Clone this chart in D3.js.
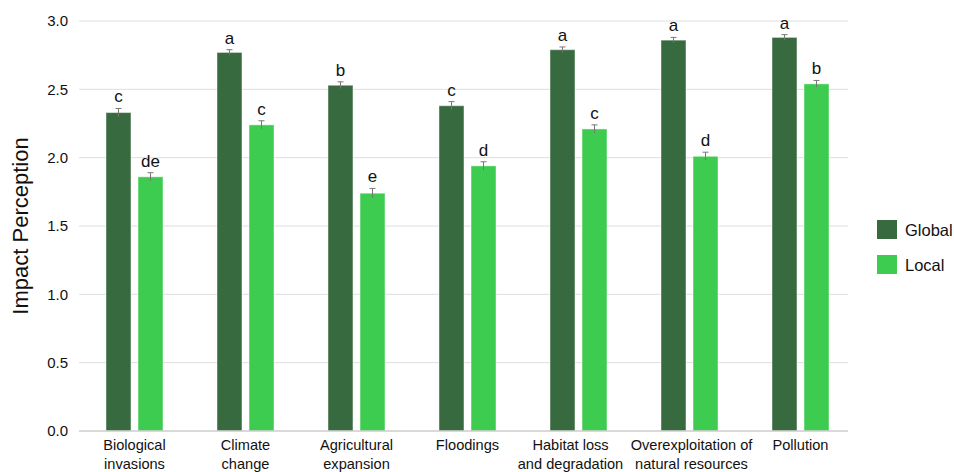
<!DOCTYPE html>
<html>
<head>
<meta charset="utf-8">
<script src="https://cdn.jsdelivr.net/npm/d3@7"></script>
<style>
  body { margin: 0; background: #fff; }
  text { font-family: "Liberation Sans", Arial, sans-serif; fill: #111; }
</style>
</head>
<body>
<svg id="chart" width="954" height="472"></svg>
<script>
// 类别与数据
const categories = ["Biological\ninvasions", "Climate\nchange", "Agricultural\nexpansion", "Floodings",
  "Habitat loss\nand degradation", "Overexploitation of\nnatural resources", "Pollution"];
const seriesNames = ["Global", "Local"];
const globalValues = [2.33, 2.77, 2.53, 2.38, 2.79, 2.86, 2.88];
const localValues = [1.86, 2.24, 1.74, 1.94, 2.21, 2.01, 2.54];
const globalErr = [0.03, 0.02, 0.025, 0.03, 0.02, 0.02, 0.02];
const localErr = [0.03, 0.03, 0.035, 0.03, 0.03, 0.03, 0.025];
const globalLetters = ["c", "a", "b", "c", "a", "a", "a"];
const localLetters = ["de", "c", "e", "d", "c", "d", "b"];
const yTicks = [0, 0.5, 1.0, 1.5, 2.0, 2.5, 3.0];

const colors = {Global: "#386a3f", Local: "#3ecc50"};

const width = 954, height = 472;
const plotLeft = 79, plotRight = 848, plotTop = 21, plotBottom = 431;
const svg = d3.select("#chart");

// 比例尺
const x0 = d3.scaleBand().domain(categories).range([plotLeft, plotLeft + 777]);
const x1 = d3.scaleBand().domain(seriesNames)
  .range([x0.bandwidth()/2 - 28.5, x0.bandwidth()/2 + 28.5]).paddingInner(0.22);
const y = d3.scaleLinear().domain([0, 3]).range([plotBottom, plotTop]);

// 网格线
svg.append("g").selectAll("line")
  .data(yTicks.slice(1))
  .enter().append("line")
  .attr("x1", plotLeft).attr("x2", plotRight)
  .attr("y1", d => y(d)).attr("y2", d => y(d))
  .attr("stroke", "#dedede").attr("stroke-width", 1);

// y轴
const yAxis = svg.append("g")
  .attr("transform", `translate(${plotLeft},0)`)
  .call(d3.axisLeft(y).tickValues(yTicks).tickFormat(d3.format(".1f")).tickSize(0).tickPadding(11));
yAxis.select(".domain").remove();
yAxis.selectAll("text").style("font-size", "15px").attr("fill", "#111");

// 数据整理
const rows = categories.map((c, i) => ({
  cat: c,
  items: [
    {key: "Global", value: globalValues[i], err: globalErr[i], letter: globalLetters[i]},
    {key: "Local", value: localValues[i], err: localErr[i], letter: localLetters[i]}
  ]
}));

const groups = svg.append("g").selectAll("g")
  .data(rows).enter().append("g")
  .attr("transform", d => `translate(${x0(d.cat)},0)`);

const bars = groups.selectAll("g").data(d => d.items).enter().append("g");

bars.append("rect")
  .attr("x", d => x1(d.key))
  .attr("y", d => y(d.value))
  .attr("width", x1.bandwidth())
  .attr("height", d => y(0) - y(d.value))
  .attr("fill", d => colors[d.key])
  .attr("stroke", "rgba(255,255,255,0.45)")
  .attr("stroke-width", 1);

// 误差线
const eb = bars.append("g").attr("stroke", "#777").attr("stroke-width", 1);
eb.append("line")
  .attr("x1", d => x1(d.key) + x1.bandwidth()/2).attr("x2", d => x1(d.key) + x1.bandwidth()/2)
  .attr("y1", d => y(d.value - d.err)).attr("y2", d => y(d.value + d.err));
eb.append("line")
  .attr("x1", d => x1(d.key) + x1.bandwidth()/2 - 3).attr("x2", d => x1(d.key) + x1.bandwidth()/2 + 3)
  .attr("y1", d => y(d.value + d.err)).attr("y2", d => y(d.value + d.err));

// 显著性字母
bars.append("text")
  .attr("x", d => x1(d.key) + x1.bandwidth()/2)
  .attr("y", d => y(d.value + d.err) - 6)
  .attr("text-anchor", "middle")
  .style("font-size", "17px")
  .text(d => d.letter);

// x轴基线
svg.append("line")
  .attr("x1", plotLeft).attr("x2", plotRight)
  .attr("y1", y(0)).attr("y2", y(0))
  .attr("stroke", "#cccccc").attr("stroke-width", 1.5);

// x轴标签（Habitat 一项稍向左移避免重叠）
const xl = svg.append("g").selectAll("text")
  .data(categories).enter().append("text")
  .attr("x", (d, i) => x0(d) + x0.bandwidth()/2 + (i === 4 ? -8 : 0) + (i === 5 ? 2 : 0))
  .attr("y", y(0) + 19)
  .attr("text-anchor", "middle")
  .style("font-size", "14.6px");
xl.selectAll("tspan")
  .data(d => d.split("\n"))
  .enter().append("tspan")
  .attr("x", function() { return d3.select(this.parentNode).attr("x"); })
  .attr("dy", (d, i) => i === 0 ? 0 : "1.3em")
  .text(d => d);

// y轴标题
svg.append("text")
  .attr("transform", `translate(28,${(y(0) + y(3))/2}) rotate(-90)`)
  .attr("text-anchor", "middle")
  .style("font-size", "22px")
  .text("Impact Perception");

// 图例
const legend = svg.append("g").selectAll("g")
  .data(seriesNames).enter().append("g")
  .attr("transform", (d, i) => `translate(877,${220 + i * 35})`);
legend.append("rect").attr("width", 20).attr("height", 19).attr("fill", d => colors[d]);
legend.append("text").attr("x", 28).attr("y", 16).style("font-size", "16.5px").text(d => d);
</script>
</body>
</html>
